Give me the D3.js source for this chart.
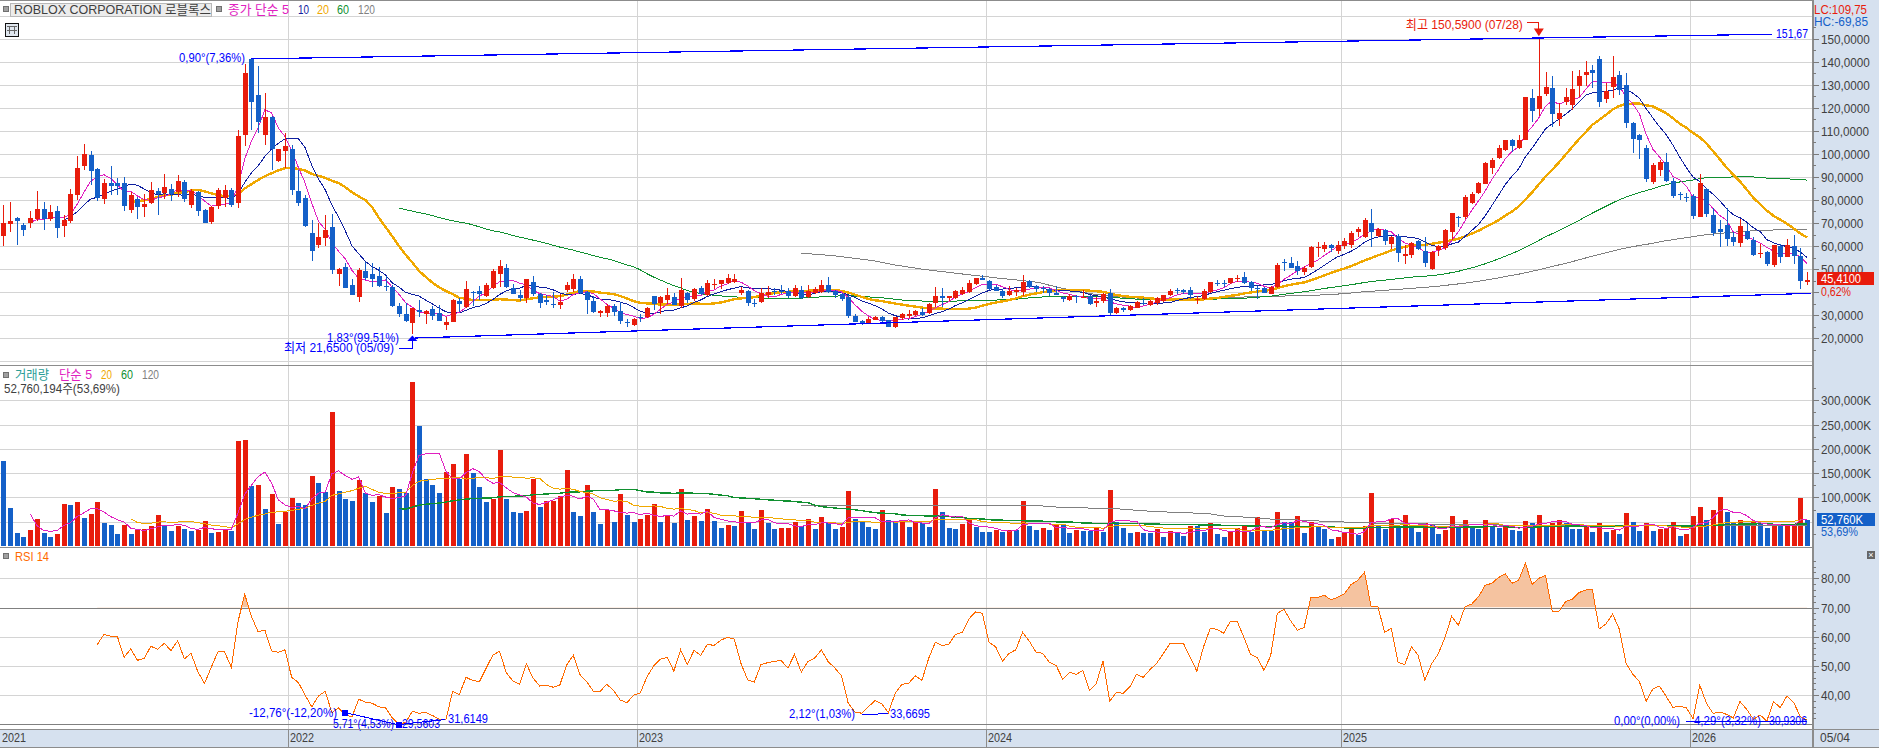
<!DOCTYPE html>
<html lang="ko">
<head>
<meta charset="utf-8">
<title>ROBLOX CORPORATION</title>
<script src="https://cdn.jsdelivr.net/npm/d3@7"></script>
<style>
  html, body { margin: 0; padding: 0; background: #fff; overflow: hidden; }
  svg { display: block; }
  text { font-family: "Liberation Sans", "Noto Sans CJK KR", sans-serif; font-size: 13px; dominant-baseline: central; }
  .crisp { shape-rendering: crispEdges; }
</style>
</head>
<body>
<svg id="chart" width="1879" height="748"></svg>
<script>
// Weekly prices, oldest first
const opens = [
64.5,69.7,72.2,69.2,70.1,71.7,76.2,71.8,75.3,68.8,
71,82.2,94.8,99.5,93.5,80.4,87.4,87.4,87.4,75.7,
80.4,77,78.7,83.9,83,84.8,83.5,87.8,77.8,83.5,
75.7,70.5,77.4,80.9,84.3,78.7,108.2,141.2,125.6,108.2,
116,96.8,101.3,102.1,83.9,80.9,65.7,60.5,63.5,68.3,
47.9,50.9,43.1,37.9,49.2,47.9,47,42.7,42.3,34,
30.5,26.6,32.3,30.5,32.7,31,25.8,27,36.2,33.7,
40.2,40.5,38.4,41.8,47.9,50.5,41.8,38.8,37.5,44.4,
39.2,36.6,34.9,34.4,41,41.4,45.7,40,36.2,31,
31,34,31.8,27,25.8,29.1,29.2,38.4,35.3,36.6,
37.9,34,39.7,37,41.8,38.8,43.3,43.6,44,44.4,
39.7,40.5,35.4,35.7,38.8,40.5,40.6,40.5,38.4,41,
37.8,39.7,40,43.1,40.5,39.2,37.9,29.7,27.5,26.5,
27.9,29.2,27.9,24.9,28.8,29.7,30.1,31.4,31,35.3,
38.4,37.5,37.5,39.2,40.2,43.6,46.3,44.9,42.3,40.5,
38.8,40,40,44.9,42.5,41.8,41.4,39.7,37.9,36.6,
38.4,37.6,38.4,35.3,36.2,39.7,31,33.1,32.3,33.1,
35.4,34.4,35.3,36.2,38.8,41,41,41,36.8,37,
40,44,43.8,44,45.7,46.6,44.4,41.8,41.8,39.2,
42.3,53.2,52.6,51.4,48.8,50.9,59.3,58.7,60.5,57.9,
60,60.5,66,64,70,64.4,67,60.9,64.4,55.9,
56.2,62,57.9,50,58.3,59.2,66.1,72.5,72.6,78.7,
83,87,93.9,98.2,101.7,106,102.6,106,124.3,119.5,
126,128.6,115.1,122.5,121.2,129.5,134.2,136.4,141.2,123.8,
129,134.2,129.9,113.4,108.2,102.6,87.8,93,96.5,88.3,
82.6,81.2,81.7,72.6,84.8,73.5,67.4,69.2,64,61.3,
66.5,62.7,56.6,57.4,51.8,60,55.3,59.9,55.7,44.4];

const highs = [
78,79.3,72.5,70,75.3,83.7,79,78,77.2,73.5,
84.8,99.1,104.3,101.4,93.8,89.1,94.8,89.6,90,83.6,
81.2,82.6,87.8,85,91.3,87,90.8,88.7,84.8,83.9,
76,77.5,85.2,86.4,85.2,110.4,139,141.7,138.1,126.4,
116.5,102.3,108.9,103.9,93,82.2,71.3,69.9,73.5,73.9,
50.4,52.5,45.7,50.5,53.1,52.5,50.9,47,43.1,35.3,
35.3,33.1,36.6,32.3,34,34.4,29.4,37,37.3,44.9,
40.3,42.7,43.8,50,54,52.2,43.6,41,45.7,47,
39.5,38.8,40,39.2,44.4,47.9,47,40.6,38.4,32.3,
34.9,34.9,35.7,28.4,28.8,30.5,33.6,38.4,38.4,41.8,
39.7,46.2,40,41.8,42.7,45.3,45.7,45.3,47.9,47.9,
42.4,41,37,41.8,42.7,41.8,43.1,41.8,43.1,42.7,
43.1,42.1,45.3,46.6,41,39.5,38.8,30.5,27.9,29.4,
29.5,29.7,27.9,29.4,30.8,32.3,32.3,33.1,35.3,42.3,
41.8,38.4,41,42.3,45.3,46.2,47.5,45.3,43.1,41.4,
42.7,41.8,47.5,45.3,43.3,42.7,41.8,42.7,38.4,39.2,
38.8,41,38.8,37.9,39.7,41.4,33.6,33.6,34.4,36.2,
37.5,36.6,37.9,38.8,41.4,41.8,41.4,42.1,38.4,41.4,
44.4,45.3,45.3,46.2,47.5,48.8,44.9,42.7,42.1,42.7,
52.6,54.4,55.2,53.5,51.4,60,61.8,61.8,60.9,62,
63.7,66.6,68.2,72.2,76.1,67.7,67.4,64.4,65.3,60.5,
61.8,62.6,63.8,57.9,60.5,67.4,74.3,73,82.2,83.5,
87.8,96.5,98.2,103.9,106,106.5,108.2,124.7,128.2,150.59,
135.5,133.8,122,128.6,136,136.4,140.3,138.6,142.5,130.6,
142.5,136,135.1,113.8,108.6,103.9,96.2,97.4,100.4,89.6,
83.5,83,82.6,91.3,85.2,76.4,71.3,76.5,66.1,71.8,
69.6,64,61,57.9,60.3,60.9,63.1,64.8,59.2,48.8];

const lows = [
60,66,60.5,64.5,67.9,70.9,67,70.9,63.6,64,
70.2,80,93,86.5,79.6,78.3,82.2,82.2,75.2,74.2,
71.8,72.6,78.3,73.5,80.4,79.6,81.4,79.1,76.5,73,
69.9,69.6,76.1,77,77,76.5,103.4,110.4,109,103.9,
93,96.5,93.9,82.2,77.4,68.3,53.5,59.2,60,48,
42.7,41.8,38.8,35.8,45.3,42.3,42.3,40.5,33.6,29.2,
27.1,21.65,29.2,26.2,28,27.5,23.6,26.9,31.6,33,
34,36.6,37.8,41.4,42.4,41.8,39.2,36.2,35.3,38.4,
33.1,34.4,33.1,32.7,40,40,39.2,30.5,31,29.2,
29.2,29.7,26.2,24.9,25.3,27,28.8,32.3,30.5,34.9,
34.4,33.1,35.3,36.2,38.8,38.4,41.4,41.4,43.6,44,
38.8,34,33.6,35.3,37.5,38.8,39,37.5,37.9,37,
37.5,39.2,39.7,39.8,37.5,36.2,28.8,27,25.8,26.2,
27.9,26.5,24.9,24.5,27.9,28.8,29.7,29.7,30.5,33.4,
33.7,36.2,37,38.8,39.7,43.1,45.3,41,40.5,37.5,
38.4,38.4,38.4,41.8,40,39.7,38.4,38.8,35.7,36.2,
35.3,37.5,34.4,33.6,35.3,29.7,30.5,31.4,31.8,33.1,
34.4,34,34.4,35.7,38.4,39.2,39.2,37,34.9,36.6,
39.7,42.7,42.3,43.6,44.4,43.6,40.5,37.2,39.5,39,
41.8,49.2,50.5,47.5,47.5,50.5,55.2,57.4,57.6,56.6,
58.6,59,64,63.5,59.6,63.8,60.5,58.8,53.1,52.2,
54.8,58.3,50.9,49.6,55.7,58.3,62.7,68.3,71.8,78.3,
82.6,87,91.3,97.8,101.3,100.8,102.1,106,113.8,116.5,
125.2,111.8,112.1,121.2,119,124.7,129.5,128.6,120.3,122.1,
124.3,125.6,111.2,100.4,97.8,87.8,87,90.4,87.8,80.9,
80,79.1,71.8,72.6,72.6,64.4,59.6,60,60,59.6,
62.7,55.7,54.9,51.4,51.1,52.7,55.3,52.2,41.4,43.1];

const closes = [
70,71,71,67,72.3,76.2,71.7,74.8,67.9,71.4,
82.6,93.9,100,92.6,80.9,87.4,86,86,77.4,82.2,
77,78.3,84.3,82.6,85.6,82.6,88.3,80.4,83.9,75.2,
70,77,84.3,84.3,77.8,107.8,135,122.5,113.9,116,
102.1,102.1,103.4,84.3,78.7,68.7,57.9,64,67,49.6,
50,41.8,38.8,49.6,46.2,45.7,42.7,42.4,34,30.5,
27.5,33.1,31.4,31.8,29.7,27.5,27,36.6,34.9,41.4,
39.8,39,43.1,49.2,51.4,42.3,39.2,37.5,45.7,39.2,
35.3,35.7,34.6,35.7,43.1,45.7,39.8,36.6,31.4,31.8,
34,31.4,27.5,26.8,28.4,28.7,33.1,34.9,37.9,38.8,
34.4,41,36.6,41.4,39.2,44,43.6,45.3,46.2,45.7,
41,35.3,35,39.7,40,40,40.3,38.4,41.8,37.5,
40.5,41.4,43.1,40.2,38.8,37,29.7,27,26.5,28.4,
29.2,27.5,24.9,29.2,30.5,30.5,31.8,30.3,34.9,38.4,
37.5,38.4,40.5,41,44,46.2,45.3,41.4,40.5,38.4,
40.5,41,44.4,42.3,41.5,41.4,39.7,38.8,37,38.4,
37.9,37.9,34.9,36.2,39.2,31,33.1,32.3,34,35.7,
35.2,36.2,37.5,38.8,40.5,40.5,40,38.8,37.2,40.5,
44.4,43.7,43.5,46.2,46,44,41.8,41.5,39.7,42.3,
51.8,52.5,50.5,49.2,50.5,59.6,59.6,60.5,59.2,60.5,
62,65.7,67.3,71.3,66.1,67.3,62.2,64,57,56.6,
61.3,58.7,52.7,57.6,60,67,74.3,72.2,81.3,82.6,
87.4,96,97.4,102.6,106,103.4,106,124.7,118.6,125.2,
129,117.3,117.7,124.7,128.2,133.8,135.5,135.1,122.5,127.3,
133.4,127.7,113.4,106.5,106,89.1,95.2,96.5,88.3,81.7,
82.3,80.9,73,87.4,73.9,65.7,66,63.1,61.8,68.7,
63.1,56.2,57,52.2,60.3,55.3,60.5,55.7,44.9,45.41];

// Weekly volume in thousands of shares
const volumes = [
176,78,27,18,33,55,27,18,25,86,
84,90,57,66,90,47,43,25,43,25,
33,34,41,64,43,31,41,35,31,33,
51,27,29,35,31,217,219,123,125,76,
107,45,70,98,88,84,145,129,111,275,
113,96,92,135,109,90,102,68,121,117,
109,338,248,137,125,109,152,168,137,189,
150,121,90,96,197,96,70,68,72,137,
80,92,93,102,156,70,61,125,70,45,
74,49,107,64,49,55,
64,86,49,62,47,117,53,61,51,76,
51,37,43,41,72,47,35,74,47,36,
37,38,49,41,55,35,59,47,35,39,
113,55,49,39,35,74,53,49,53,39,
49,47,39,117,70,37,35,45,53,39,
29,29,33,29,33,33,92,41,33,37,
33,43,43,27,33,31,30,37,29,115,
49,37,27,29,27,27,35,18,31,27,
20,41,41,29,47,25,18,29,37,41,
29,59,
31,31,70,49,49,61,27,49,41,35,
14,18,29,37,23,41,109,41,35,55,
41,64,37,29,47,43,25,33,61,37,
53,37,35,53,41,37,41,33,31,51,
47,64,41,47,53,47,35,35,41,29,
47,29,33,25,68,49,31,47,31,35,
37,49,20,25,61,80,53,74,100,70,
49,53,41,49,47,37,43,41,42,43,
98,52.76];

// RSI(14), available from the fifteenth week on
const rsiFirstWeek = 14;
const rsi14 = [
57.3,60.8,60.2,60.1,52.9,55.8,51.9,52.6,56.7,55.7,
57.7,55.3,58.6,52.4,54.3,48,44,49.5,54.8,54.8,
49.5,65.2,74.5,66.9,61.7,62.3,55.1,54.7,55.5,46.1,
44.3,40,36,39.7,41.3,34,35.6,33.2,32.6,38.6,
37.6,37.2,36,35.6,32.2,30.1,30.6,34.5,33.8,34.1,
33,31.8,31.5,41.3,40.2,46.1,45,44.6,49.2,53.7,
55,47.7,44.8,43.7,50.7,45.8,43.1,43.4,42.7,43.5,
50.3,53.6,47,44.6,41.3,41.3,43.7,41.6,38.3,37.4,
40,40.8,
46.3,50,52.3,52.9,48.2,55.5,50.5,55.3,53.6,57.4,
57,58.8,59.8,59.2,50.9,45.2,44.5,50.5,51.1,51.6,
51.8,49.3,53.9,47.9,51.5,52.7,55.5,51.5,49.3,46.6,
37.2,34.2,33.8,36,38.1,37,34,40.6,43.7,44,
46.6,45.1,52.6,58.1,57,57.4,60.8,61.5,66.1,68.5,
68,58.1,56.5,51.6,54.3,55.5,61.5,58.5,54.7,54.3,
51.2,50.2,45.4,47.8,47.1,48.5,41.6,44,51.6,37.9,
41,40.6,42.8,47.1,46.1,48.7,50.9,54.2,57.7,57.7,
57.7,52.9,48.2,56.6,62.9,62.5,61.2,65.3,65.3,59.8,
54,52.9,48.5,53.4,
68,69.4,65.4,62.2,63.2,73.4,73.4,74.2,72.6,73.5,
74.7,77.9,79.3,82.1,70.2,70.3,61.5,62.9,51.2,50.4,
56.6,53.6,45.1,50.7,54.1,59.8,67,63.9,70.3,71.2,
73.7,77.6,78.3,80.3,81.5,78.3,79.4,85.1,77.9,80,
81,68.7,68.7,72,72.9,75.1,76,76,62.6,64.4,
67.7,62.6,50.9,47.2,44.6,37.9,42.1,43.1,39.5,35.8,
36.2,35.6,32,43.4,37.2,33.7,34.2,33.4,32.2,37.8,
35.1,31.7,33.2,31.1,37.8,35.7,39.7,37.5,32.6,31.5];

// Axis values and labels
const yearLabels = ["2021", "2022", "2023", "2024", "2025", "2026"];
const yearFirstWeeks = [0, 43, 95, 147, 200, 252];
const priceTicks = d3.range(20, 160, 10);
const priceGrid = d3.range(10, 170, 10);
const volumeTicks = [300, 250, 200, 150, 100];
const volumeGrid = [300, 250, 200, 150, 100, 50];
const rsiTicks = [80, 70, 60, 50, 40];
const rsiGrid = [80, 60, 50, 40];

// Trend lines and their end points, as [week, value]
const priceTopTrend = [[37, 141.2], [263.7, 151.9]];
const priceBottomTrend = [[61.4, 20.1], [269.6, 39.5]];
const rsiTrends = [
  [[51, 34], [59, 29.8]],
  [[59.3, 30], [65.8, 31.61]],
  [[128, 33.3], [132, 33.67]],
  [[251, 30.93], [269, 30.93]]
];
const rsiMarkers = [[51, 34], [59, 29.8]];

const RED = "#e81c0c", BLUE = "#1460c8", TRENDBLUE = "#0000ff";
const MA_COLORS = { 5: "#e020c0", 10: "#1020a0", 20: "#f0a800", 60: "#109030", 120: "#808080" };
const GRID = "#d4d4d4", AXISBG = "#d6e1ef", RULE = "#8c8c8c", LABEL = "#404040";
const plotRight = 1812, width = 1879, height = 748;

const svg = d3.select("#chart");

const weeks = d3.range(closes.length);
const band = d3.scaleBand().domain(weeks).range([0, 1810.4]);
const xc = i => band.step() * i + band.step() / 2;
const xEdge = i => band.step() * i;

const priceY = d3.scaleLinear().domain([10, 150]).range([361.3, 38.6]);
const volumeY = d3.scaleLinear().domain([0, 300]).range([546, 400.3]);
const rsiY = d3.scaleLinear().domain([30, 80]).range([724.3, 578.3]);

// Simple moving average, undefined until the window is full
const sma = (values, n) => values.map((_, i) =>
  i < n - 1 ? null : d3.mean(values.slice(i - n + 1, i + 1)));

function plotLine(scale) {
  return d3.line().defined(d => d != null).x((d, i) => xc(i)).y(d => scale(d));
}

// Labels are drawn in a condensed face: a given width fixes the run length
function text(parent, x, y, str, color, anchor, fitWidth) {
  const t = parent.append("text").attr("x", x).attr("y", y).attr("fill", color)
    .attr("text-anchor", anchor || "start").text(str);
  if (fitWidth) t.attr("textLength", fitWidth).attr("lengthAdjust", "spacingAndGlyphs");
  return t;
}

// Backgrounds
svg.append("rect").attr("width", width).attr("height", height).attr("fill", "#fff");
svg.append("rect").attr("class", "crisp").attr("x", plotRight).attr("y", 0)
  .attr("width", width - plotRight).attr("height", height).attr("fill", AXISBG);
svg.append("rect").attr("class", "crisp").attr("x", 0).attr("y", 729)
  .attr("width", width).attr("height", 19).attr("fill", AXISBG);

// Horizontal grid
function hGrid(values, scale) {
  svg.append("g").attr("class", "crisp").selectAll("line").data(values).join("line")
    .attr("x1", 0).attr("x2", plotRight)
    .attr("y1", d => Math.round(scale(d)) + 0.5).attr("y2", d => Math.round(scale(d)) + 0.5)
    .attr("stroke", GRID);
}
hGrid(priceGrid, priceY);
hGrid(volumeGrid, volumeY);
hGrid(rsiGrid, rsiY);

// Year separators run through all three panels
svg.append("g").attr("class", "crisp").selectAll("line").data(yearFirstWeeks.slice(1)).join("line")
  .attr("x1", d => Math.round(xEdge(d)) + 0.5).attr("x2", d => Math.round(xEdge(d)) + 0.5)
  .attr("y1", 0).attr("y2", 729).attr("stroke", GRID);

// Overbought and floor rules of the RSI panel
svg.append("g").attr("class", "crisp").selectAll("line").data([70, 30]).join("line")
  .attr("x1", 0).attr("x2", plotRight)
  .attr("y1", d => Math.round(rsiY(d)) + 0.5).attr("y2", d => Math.round(rsiY(d)) + 0.5)
  .attr("stroke", "#808080");

// Price panel: moving averages first, candles on top
const priceLines = svg.append("g").attr("class", "crisp").attr("fill", "none");
[120, 60, 20, 10, 5].forEach(n => {
  priceLines.append("path").attr("d", plotLine(priceY)(sma(closes, n)))
    .attr("stroke", MA_COLORS[n]).attr("stroke-width", n === 20 ? 2.4 : 1);
});

const candles = svg.append("g").attr("class", "crisp").selectAll("g").data(weeks).join("g")
  .attr("fill", i => closes[i] >= opens[i] ? RED : BLUE)
  .attr("stroke", i => closes[i] >= opens[i] ? RED : BLUE);
candles.append("line")
  .attr("x1", i => Math.round(xc(i)) + 0.5).attr("x2", i => Math.round(xc(i)) + 0.5)
  .attr("y1", i => priceY(highs[i])).attr("y2", i => priceY(lows[i]));
candles.append("rect")
  .attr("stroke", "none")
  .attr("x", i => Math.round(xc(i)) - 2)
  .attr("width", 5)
  .attr("y", i => priceY(Math.max(opens[i], closes[i])))
  .attr("height", i => Math.max(1, Math.abs(priceY(opens[i]) - priceY(closes[i]))));

// Price trend lines and annotations
const trendLine = (scale) => d3.line().x(d => xc(d[0])).y(d => scale(d[1]));
const notes = svg.append("g");
[priceTopTrend, priceBottomTrend].forEach(t => {
  notes.append("path").attr("class", "crisp").attr("d", trendLine(priceY)(t))
    .attr("fill", "none").attr("stroke", TRENDBLUE).attr("stroke-width", 1.2);
});
text(notes, 179, 57, "0,90°(7,36%)", TRENDBLUE, "start", 66);
text(notes, 1776, 33, "151,67", TRENDBLUE, "start", 32);

const highWeek = highs.indexOf(d3.max(highs));
const lowWeek = lows.indexOf(d3.min(lows));
const hx = xc(highWeek), hy = priceY(highs[highWeek]);
text(notes, hx - 16, 24, "최고 150,5900 (07/28)", RED, "end", 117);
notes.append("path").attr("d", `M${hx - 12},22.5H${hx}V30`).attr("fill", "none").attr("stroke", RED).attr("class", "crisp");
notes.append("path").attr("d", `M${hx - 5},28.5H${hx + 5}L${hx},${hy - 1}Z`).attr("fill", RED);

const lx = xc(lowWeek), ly = priceY(lows[lowWeek]);
text(notes, 327, 337, "1,83°(99,51%)", TRENDBLUE, "start", 72);
text(notes, 284, 347, "최저 21,6500 (05/09)", TRENDBLUE, "start", 110);
notes.append("path").attr("d", `M${lx - 13},348.5H${lx}V${ly + 2}`).attr("fill", "none").attr("stroke", TRENDBLUE).attr("class", "crisp");
notes.append("path").attr("d", `M${lx - 5},341H${lx + 5}L${lx},${ly + 1}Z`).attr("fill", TRENDBLUE);

// Volume panel; a bar is red when volume rose against the week before
svg.append("g").attr("class", "crisp").selectAll("rect").data(weeks).join("rect")
  .attr("x", i => Math.round(xc(i)) - 2)
  .attr("width", 5)
  .attr("y", i => volumeY(volumes[i]))
  .attr("height", i => volumeY(0) - volumeY(volumes[i]))
  .attr("fill", i => i > 0 && volumes[i] > volumes[i - 1] ? RED : BLUE);

const volumeLines = svg.append("g").attr("class", "crisp").attr("fill", "none");
[120, 60, 20, 5].forEach(n => {
  volumeLines.append("path").attr("d", plotLine(volumeY)(sma(volumes, n)))
    .attr("stroke", MA_COLORS[n]).attr("stroke-width", n === 60 ? 1.4 : 1);
});

// RSI panel: the stretch above 70 is shaded, clipped to the band over that rule
const rsiSeries = weeks.map(i => i < rsiFirstWeek ? null : rsi14[i - rsiFirstWeek]);
svg.append("clipPath").attr("id", "over70").append("rect")
  .attr("x", 0).attr("y", 0).attr("width", plotRight).attr("height", rsiY(70));
svg.append("path")
  .attr("clip-path", "url(#over70)")
  .attr("d", d3.area().defined(d => d != null).x((d, i) => xc(i)).y0(rsiY(70)).y1(d => rsiY(d))(rsiSeries))
  .attr("fill", "#f5c3a0");
svg.append("path").attr("class", "crisp").attr("d", plotLine(rsiY)(rsiSeries))
  .attr("fill", "none").attr("stroke", "#ff6a00").attr("stroke-width", 1);

const rsiNotes = svg.append("g");
rsiTrends.forEach(t => {
  rsiNotes.append("path").attr("class", "crisp").attr("d", trendLine(rsiY)(t))
    .attr("fill", "none").attr("stroke", TRENDBLUE).attr("stroke-width", 1);
});
rsiNotes.append("g").attr("class", "crisp").selectAll("rect").data(rsiMarkers).join("rect")
  .attr("x", d => xc(d[0]) - 3).attr("y", d => rsiY(d[1]) - 3)
  .attr("width", 6).attr("height", 6).attr("fill", TRENDBLUE);
text(rsiNotes, 249, 712, "-12,76°(-12,20%)", TRENDBLUE, "start", 88);
text(rsiNotes, 333, 723, "5,71°(4,53%)", TRENDBLUE, "start", 61);
text(rsiNotes, 402, 723, "29,5603", TRENDBLUE, "start", 38);
text(rsiNotes, 448, 718, "31,6149", TRENDBLUE, "start", 40);
text(rsiNotes, 789, 713, "2,12°(1,03%)", TRENDBLUE, "start", 66);
text(rsiNotes, 890, 713, "33,6695", TRENDBLUE, "start", 40);
text(rsiNotes, 1614, 720, "0,00°(0,00%)", TRENDBLUE, "start", 66);
text(rsiNotes, 1694, 720, "4,29°(3,32%)", TRENDBLUE, "start", 67);
text(rsiNotes, 1769, 720, "30,9306", TRENDBLUE, "start", 38);

// Panel rules
const rules = svg.append("g").attr("class", "crisp").attr("stroke", RULE);
[0, 365, 547].forEach(y => rules.append("line").attr("x1", 0).attr("x2", plotRight).attr("y1", y + 0.5).attr("y2", y + 0.5));
[729, 747].forEach(y => rules.append("line").attr("x1", 0).attr("x2", width).attr("y1", y + 0.5).attr("y2", y + 0.5));
rules.append("line").attr("x1", plotRight + 0.5).attr("x2", plotRight + 0.5).attr("y1", 0).attr("y2", height);
rules.append("line").attr("x1", plotRight + 1.5).attr("x2", plotRight + 1.5).attr("y1", 0).attr("y2", height);

// Right-hand axes, with their labels narrowed to the chart's condensed digits
function rightAxis(scale, majors, minors, format) {
  const g = svg.append("g").attr("transform", `translate(${plotRight + 1},0)`);
  g.append("g").attr("class", "crisp").selectAll("line").data(minors).join("line")
    .attr("x1", 0).attr("x2", 3)
    .attr("y1", d => Math.round(scale(d)) + 0.5).attr("y2", d => Math.round(scale(d)) + 0.5)
    .attr("stroke", "#7a7a7a");
  g.call(d3.axisRight(scale).tickValues(majors).tickSize(6).tickPadding(2).tickFormat(format));
  g.select(".domain").remove();
  g.selectAll(".tick line").attr("stroke", "#7a7a7a").attr("class", "crisp");
  g.selectAll(".tick text").attr("fill", LABEL).attr("dy", 0).style("font-size", "13px")
    .style("font-family", '"Liberation Sans", sans-serif')
    .each(function () {
      const len = this.getComputedTextLength();
      if (len > 0) d3.select(this).attr("textLength", len * 0.9).attr("lengthAdjust", "spacingAndGlyphs");
    });
  return g;
}
// The 40 label sits under the last-price tag, so only its tick is drawn
rightAxis(priceY, priceTicks, d3.range(15, 160, 10), d => d === 40 ? "" : d + ",0000");
rightAxis(volumeY, volumeTicks, [325, 275, 225, 175, 125, 75, 25], d => d + ",000K");
rightAxis(rsiY, rsiTicks, d3.range(32, 88, 2).filter(d => d % 10 !== 0), d => d + ",00");

// Price panel tags
text(svg, 1814, 9, "LC:109,75", RED, "start", 53);
text(svg, 1814, 21, "HC:-69,85", "#1460c8", "start", 54);
svg.append("rect").attr("class", "crisp").attr("x", 1817).attr("y", 272).attr("width", 57).attr("height", 13).attr("fill", RED);
text(svg, 1821, 278.5, "45,4100", "#fff", "start", 40);
text(svg, 1821, 291, "0,62%", RED, "start", 30);

// Volume panel tags
svg.append("rect").attr("class", "crisp").attr("x", 1817).attr("y", 513).attr("width", 58).attr("height", 13).attr("fill", BLUE);
text(svg, 1821, 519.5, "52,760K", "#fff", "start", 42);
text(svg, 1821, 531, "53,69%", BLUE, "start", 37);

// Time axis
const timeAxis = svg.append("g");
timeAxis.append("g").attr("class", "crisp").selectAll("line").data(yearFirstWeeks.slice(1)).join("line")
  .attr("x1", d => Math.round(xEdge(d)) + 0.5).attr("x2", d => Math.round(xEdge(d)) + 0.5)
  .attr("y1", 729).attr("y2", 747).attr("stroke", RULE);
yearLabels.forEach((label, k) => text(timeAxis, Math.round(xEdge(yearFirstWeeks[k])) + 2, 737.5, label, LABEL, "start", 24));
text(timeAxis, 1820, 737.5, "05/04", LABEL, "start", 30);
timeAxis.append("line").attr("class", "crisp").attr("x1", plotRight + 0.5).attr("x2", plotRight + 0.5)
  .attr("y1", 729).attr("y2", 747).attr("stroke", RULE);

// Panel header controls
function handle(x, y) {
  svg.append("rect").attr("class", "crisp").attr("x", x).attr("y", y).attr("width", 5).attr("height", 5)
    .attr("fill", "#a0a0a0").attr("stroke", "#707070");
}
handle(3, 6.5);
handle(216, 6.5);
handle(3, 372);
handle(3, 553);

// Header of the price panel
svg.append("rect").attr("class", "crisp").attr("x", 10.5).attr("y", 3.5).attr("width", 201).attr("height", 12.5)
  .attr("fill", "#ececec").attr("stroke", "#b8b8b8");
text(svg, 14, 9.5, "ROBLOX CORPORATION  로블록스", LABEL, "start", 197);
text(svg, 228, 9.5, "종가 단순 5", MA_COLORS[5], "start", 61);
text(svg, 298, 9.5, "10", MA_COLORS[10], "start", 11);
text(svg, 317, 9.5, "20", MA_COLORS[20], "start", 12);
text(svg, 337, 9.5, "60", MA_COLORS[60], "start", 12);
text(svg, 358, 9.5, "120", MA_COLORS[120], "start", 17);

// Table button under the header
const tableIcon = svg.append("g").attr("class", "crisp");
tableIcon.append("rect").attr("x", 5.5).attr("y", 23.5).attr("width", 13).attr("height", 13)
  .attr("fill", "#dfe6ee").attr("stroke", "#111");
tableIcon.selectAll(".col").data([9.5, 14.5]).join("line")
  .attr("x1", d => d).attr("x2", d => d).attr("y1", 26).attr("y2", 34).attr("stroke", "#666");
tableIcon.selectAll(".row").data([26.5, 30.5]).join("line")
  .attr("x1", 7).attr("x2", 17).attr("y1", d => d).attr("y2", d => d).attr("stroke", "#666");

// Header of the volume panel
text(svg, 15, 374.5, "거래량", "#2a9d96", "start", 34);
text(svg, 59, 374.5, "단순 5", MA_COLORS[5], "start", 33);
text(svg, 101, 374.5, "20", MA_COLORS[20], "start", 11);
text(svg, 121, 374.5, "60", MA_COLORS[60], "start", 12);
text(svg, 142, 374.5, "120", MA_COLORS[120], "start", 17);
text(svg, 4, 388, "52,760,194주(53,69%)", LABEL, "start", 116);

// Header of the RSI panel
text(svg, 15, 556, "RSI 14", "#ff6a00", "start", 34);

// Close button of the RSI panel
svg.append("rect").attr("class", "crisp").attr("x", 1867).attr("y", 551).attr("width", 8).attr("height", 8).attr("fill", "#666");
text(svg, 1871, 555, "×", "#fff", "middle").style("font-size", "9px");
</script>
</body>
</html>
